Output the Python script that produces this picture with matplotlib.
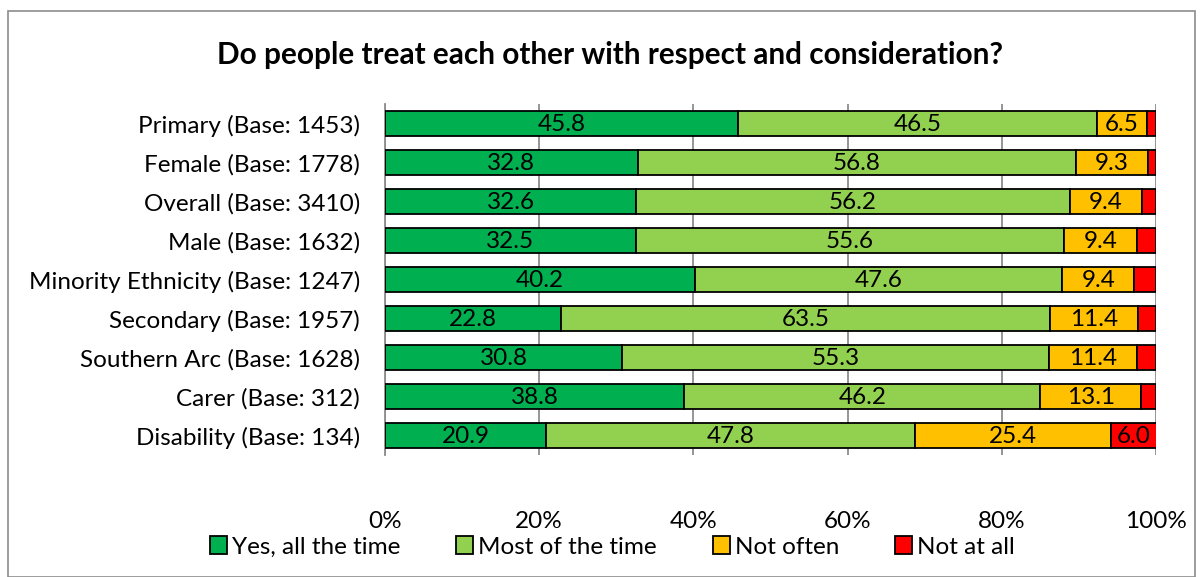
import matplotlib.pyplot as plt
from matplotlib.patches import Rectangle

plt.rcParams['font.family'] = ['Lato', 'DejaVu Sans']

# data (top to bottom as shown)
categories = ['Primary (Base: 1453)', 'Female (Base: 1778)', 'Overall (Base: 3410)',
              'Male (Base: 1632)', 'Minority Ethnicity (Base: 1247)', 'Secondary (Base: 1957)',
              'Southern Arc (Base: 1628)', 'Carer (Base: 312)', 'Disability (Base: 134)']
yes_all = [45.8, 32.8, 32.6, 32.5, 40.2, 22.8, 30.8, 38.8, 20.9]
most_time = [46.5, 56.8, 56.2, 55.6, 47.6, 63.5, 55.3, 46.2, 47.8]
not_often = [6.5, 9.3, 9.4, 9.4, 9.4, 11.4, 11.4, 13.1, 25.4]
not_at_all = [1.2, 1.1, 1.8, 2.5, 2.8, 2.3, 2.5, 1.9, 6.0]
series_names = ['Yes, all the time', 'Most of the time', 'Not often', 'Not at all']
colors = ['#00B050', '#92D050', '#FFC000', '#FF0000']
show_min = [3, 3, 3, 5]  # only label segments wide enough

fig = plt.figure(figsize=(12.03, 5.77), dpi=100)
ax = fig.add_axes([0.320, 0.2114, 0.641, 0.6084])

# chart frame
fig.patches.append(Rectangle((8 / 1203, 0), 1187 / 1203, 1 - 11 / 577, transform=fig.transFigure,
                             fill=False, edgecolor='#8c8c8c', linewidth=1.2))

y = list(range(len(categories)))
left = [0.0] * len(categories)
all_series = [yes_all, most_time, not_often, not_at_all]
for vals, name, col, mn in zip(all_series, series_names, colors, show_min):
    bars = ax.barh(y, vals, left=left, height=0.66, color=col, edgecolor='black',
                   linewidth=1.3, label=name, zorder=3)
    for b, v in zip(bars, vals):
        if v >= mn:
            ax.text(b.get_x() + b.get_width() / 2, b.get_y() + b.get_height() / 2 + 0.03,
                    f'{v:.1f}', ha='center', va='center', fontsize=17.5, zorder=4)
    left = [l + v for l, v in zip(left, vals)]

ax.set_xlim(0, 100)
ax.set_ylim(len(categories) - 0.5, -0.5)
ax.set_yticks(y)
ax.set_yticklabels(categories, fontsize=17.5)
ax.set_xticks([0, 20, 40, 60, 80, 100])
ax.set_xticklabels(['0%', '20%', '40%', '60%', '80%', '100%'], fontsize=17.5)
ax.tick_params(axis='y', length=0, pad=18)
ax.tick_params(axis='x', length=0, pad=40)
ax.grid(axis='x', color='#8c8c8c', linewidth=1.3, zorder=0)
for s in ['top', 'right', 'bottom']:
    ax.spines[s].set_visible(False)
ax.spines['left'].set_color('#8c8c8c')
ax.spines['left'].set_linewidth(1.3)

fig.text(0.507, 0.905, 'Do people treat each other with respect and consideration?',
         ha='center', va='center', fontsize=21.4, fontweight='bold')

fig.legend(loc='center', bbox_to_anchor=(0.509, 0.052), ncol=4, frameon=False, fontsize=17.5,
           handlelength=0.7, handleheight=0.7, handletextpad=0.2, columnspacing=2.3)

fig.savefig('out.png', dpi=100)
